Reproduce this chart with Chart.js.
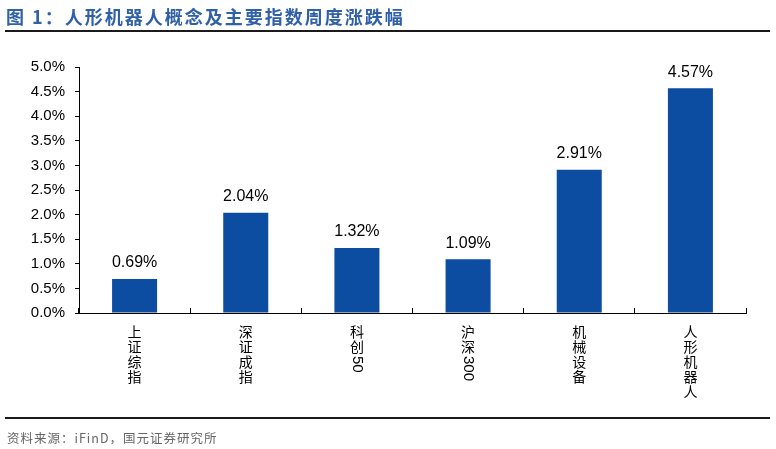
<!DOCTYPE html>
<html>
<head>
<meta charset="utf-8">
<script src="https://cdn.jsdelivr.net/npm/chart.js"></script>
<style>
  html, body { margin: 0; padding: 0; background: #fff; }
  #wrap { position: relative; width: 776px; height: 449px; overflow: hidden; }
  #chart { position: absolute; left: 0; top: 0; }
  .title {
    position: absolute; left: 6px; top: 3px;
    font: bold 18px "Noto Sans CJK SC", "Liberation Sans", sans-serif;
    letter-spacing: 2px; color: #2f60a8; white-space: nowrap;
  }
  .rule { position: absolute; left: 5px; width: 765px; height: 2px; background: #1a1a1a; }
  .source {
    position: absolute; left: 7px; top: 428px;
    font: 12.5px "Noto Sans CJK SC", "Liberation Sans", sans-serif;
    letter-spacing: 1px; color: #666; white-space: nowrap;
  }
</style>
</head>
<body>
<div id="wrap">
  <canvas id="chart" width="776" height="449"></canvas>
  <div class="title">图 1：人形机器人概念及主要指数周度涨跌幅</div>
  <div class="rule" style="top:30px"></div>
  <div class="rule" style="top:417px"></div>
  <div class="source">资料来源：iFinD，国元证券研究所</div>
</div>
<script>
// chart data
const categories = ['上证综指', '深证成指', '科创50', '沪深300', '机械设备', '人形机器人'];
const changes = [0.69, 2.04, 1.32, 1.09, 2.91, 4.57];
const yTickMin = 0;
const yTickMax = 5;
const yTickStep = 0.5;

const barColor = '#0c4da2';

// value labels above the bars
const barLabels = {
  id: 'barLabels',
  afterDatasetsDraw(chart) {
    const ctx = chart.ctx;
    const meta = chart.getDatasetMeta(0);
    ctx.save();
    ctx.font = '16px "Liberation Sans", Arial, sans-serif';
    ctx.fillStyle = '#000';
    ctx.textAlign = 'center';
    ctx.textBaseline = 'bottom';
    meta.data.forEach((bar, i) => {
      ctx.fillText(changes[i].toFixed(2) + '%', bar.x, bar.y - 8);
    });
    ctx.restore();
  }
};

// vertical category labels, latin runs turned 90 degrees
const verticalLabels = {
  id: 'verticalLabels',
  afterDraw(chart) {
    const ctx = chart.ctx;
    const xs = chart.scales.x;
    const top = xs.top + 12;
    const step = 15;
    ctx.save();
    ctx.fillStyle = '#000';
    categories.forEach((label, i) => {
      const x = xs.getPixelForValue(i);
      let y = top;
      const parts = label.match(/[\x00-\x7f]+|[^\x00-\x7f]/g);
      parts.forEach(p => {
        if (/^[\x00-\x7f]+$/.test(p)) {
          ctx.font = '15px "Liberation Sans", Arial, sans-serif';
          ctx.save();
          ctx.translate(x, y + 1);
          ctx.rotate(Math.PI / 2);
          ctx.textAlign = 'left';
          ctx.textBaseline = 'middle';
          ctx.fillText(p, 0, 0);
          const w = ctx.measureText(p).width;
          ctx.restore();
          y += w + 2;
        } else {
          ctx.font = '14px "Noto Sans CJK SC", sans-serif';
          ctx.textAlign = 'center';
          ctx.textBaseline = 'top';
          ctx.fillText(p, x, y);
          y += step;
        }
      });
    });
    ctx.restore();
  }
};

new Chart(document.getElementById('chart'), {
  type: 'bar',
  data: {
    labels: categories,
    datasets: [{
      data: changes,
      backgroundColor: barColor,
      borderWidth: 0,
      barPercentage: 0.405,
      categoryPercentage: 1.0
    }]
  },
  options: {
    responsive: false,
    animation: false,
    devicePixelRatio: 1,
    layout: { padding: { left: 0, right: 30, top: 67, bottom: 0 } },
    plugins: {
      legend: { display: false },
      tooltip: { enabled: false }
    },
    scales: {
      x: {
        grid: { drawOnChartArea: false, tickLength: -5, color: '#000', offset: true },
        border: { color: '#000', width: 1 },
        ticks: { display: false },
        afterFit(scale) { scale.height = 449 - 313; }
      },
      y: {
        min: yTickMin,
        max: yTickMax,
        grid: { drawOnChartArea: false, tickLength: 4, color: '#000' },
        border: { color: '#000', width: 1 },
        ticks: {
          stepSize: yTickStep,
          padding: 10,
          color: '#000',
          font: { family: '"Liberation Sans", Arial, sans-serif', size: 15 },
          callback: v => v.toFixed(1) + '%'
        },
        afterFit(scale) { scale.width = 79; }
      }
    }
  },
  plugins: [barLabels, verticalLabels]
});
</script>
</body>
</html>
